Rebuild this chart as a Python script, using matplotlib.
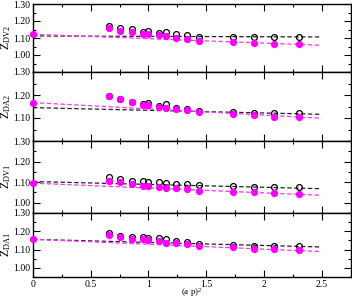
import numpy as np
import matplotlib
matplotlib.use('Agg')
import matplotlib.pyplot as plt
from matplotlib.ticker import MultipleLocator, FixedLocator, FormatStrFormatter

plt.rcParams['font.family'] = ['Liberation Serif', 'DejaVu Serif']
plt.rcParams['mathtext.fontset'] = 'custom'
plt.rcParams['mathtext.rm'] = 'Liberation Serif'

# (a p)^2 values of the lattice points
x = [0.655, 0.75, 0.86, 0.957, 1.0, 1.095, 1.155, 1.24, 1.33, 1.44, 1.73, 1.91, 2.09, 2.30]
fit_x = [0.0, 2.5]

labels = [r'$\mathregular{Z_{DV2}}$', r'$\mathregular{Z_{DA2}}$',
          r'$\mathregular{Z_{DV1}}$', r'$\mathregular{Z_{DA1}}$']

# open black circles
black_dv2 = [1.171, 1.157, 1.151, 1.137, 1.141, 1.131, 1.135, 1.122, 1.118, 1.108, 1.106, 1.106, 1.106, 1.108]
black_da2 = [1.197, 1.183, 1.170, 1.161, 1.164, 1.152, 1.160, 1.142, 1.138, 1.130, 1.125, 1.123, 1.120, 1.120]
black_dv1 = [1.124, 1.114, 1.107, 1.107, 1.100, 1.101, 1.096, 1.091, 1.090, 1.085, 1.082, 1.078, 1.077, 1.075]
black_da1 = [1.189, 1.176, 1.167, 1.167, 1.163, 1.162, 1.156, 1.147, 1.142, 1.131, 1.127, 1.121, 1.120, 1.120]

# filled magenta circles
mag_dv2 = [1.159, 1.143, 1.133, 1.124, 1.124, 1.118, 1.114, 1.102, 1.094, 1.084, 1.075, 1.071, 1.067, 1.063]
mag_da2 = [1.197, 1.183, 1.170, 1.157, 1.155, 1.149, 1.143, 1.139, 1.135, 1.126, 1.117, 1.112, 1.106, 1.103]
mag_dv1 = [1.107, 1.100, 1.091, 1.083, 1.082, 1.077, 1.073, 1.070, 1.067, 1.057, 1.054, 1.051, 1.046, 1.041]
mag_da1 = [1.180, 1.169, 1.160, 1.156, 1.152, 1.145, 1.138, 1.134, 1.129, 1.120, 1.113, 1.105, 1.101, 1.098]

# extrapolated values at (a p)^2 = 0
mag_zero = [1.122, 1.167, 1.095, 1.156]

# fit lines, value at x=0 and x=2.5
fit_black = [[1.112, 1.106], [1.145, 1.116], [1.103, 1.068], [1.156, 1.114]]
fit_mag = [[1.122, 1.057], [1.167, 1.099], [1.095, 1.036], [1.156, 1.089]]

ylims = [(0.9, 1.3), (1.0, 1.3), (0.95, 1.3), (0.95, 1.3)]
yticks = [[1.0, 1.1, 1.2, 1.3], [1.1, 1.2, 1.3], [1.0, 1.1, 1.2, 1.3], [1.0, 1.1, 1.2, 1.3]]

blacks = [black_dv2, black_da2, black_dv1, black_da1]
mags = [mag_dv2, mag_da2, mag_dv1, mag_da1]

fig = plt.figure(figsize=(3.52, 3.0), dpi=100)
gs = fig.add_gridspec(4, 1, height_ratios=[68, 69, 72, 64], hspace=0,
                      left=33/352, right=350.5/352, top=1-4/300, bottom=1-277/300)

axes = []
for i in range(4):
    ax = fig.add_subplot(gs[i])
    axes.append(ax)
    ax.plot(fit_x, fit_black[i], color='#222222', ls=(0, (3.5, 2)), lw=0.9, zorder=2)
    ax.plot(fit_x, fit_mag[i], color='#ff33ff', ls=(0, (3.5, 2)), lw=0.9, zorder=2)
    ax.plot(x, blacks[i], 'o', mfc='none', mec='black', mew=0.9, ms=4.2, zorder=3)
    ax.plot(x, mags[i], 'o', color='#ff00ff', ms=4.2, zorder=4)
    ax.plot([0.0], [mag_zero[i]], 'o', color='#ff00ff', ms=4.2, zorder=4, clip_on=False)

    ax.set_xlim(0, 2.75)
    ax.set_ylim(*ylims[i])
    ax.xaxis.set_major_locator(MultipleLocator(0.5))
    ax.xaxis.set_minor_locator(MultipleLocator(0.25))
    ax.yaxis.set_major_locator(FixedLocator(yticks[i]))
    ax.yaxis.set_minor_locator(MultipleLocator(0.05))
    ax.yaxis.set_major_formatter(FormatStrFormatter('%.2f'))
    ax.tick_params(which='both', direction='in', top=True, right=True, width=0.8, labelsize=7, pad=2)
    ax.tick_params(which='major', length=5)
    ax.tick_params(which='minor', length=2.5)
    for s in ax.spines.values():
        s.set_linewidth(1.0)
    ax.set_ylabel(labels[i], fontsize=8.5, labelpad=1)
    ax.yaxis.set_label_coords(-0.062, 0.5)
    if i < 3:
        ax.tick_params(labelbottom=False)

axes[3].xaxis.set_major_formatter(FormatStrFormatter('%g'))
axes[3].set_xlabel('(a p)$\\mathregular{^2}$', fontsize=6.5)
axes[3].xaxis.set_label_coords(0.5, -0.135)

plt.savefig('out.png', dpi=100)
